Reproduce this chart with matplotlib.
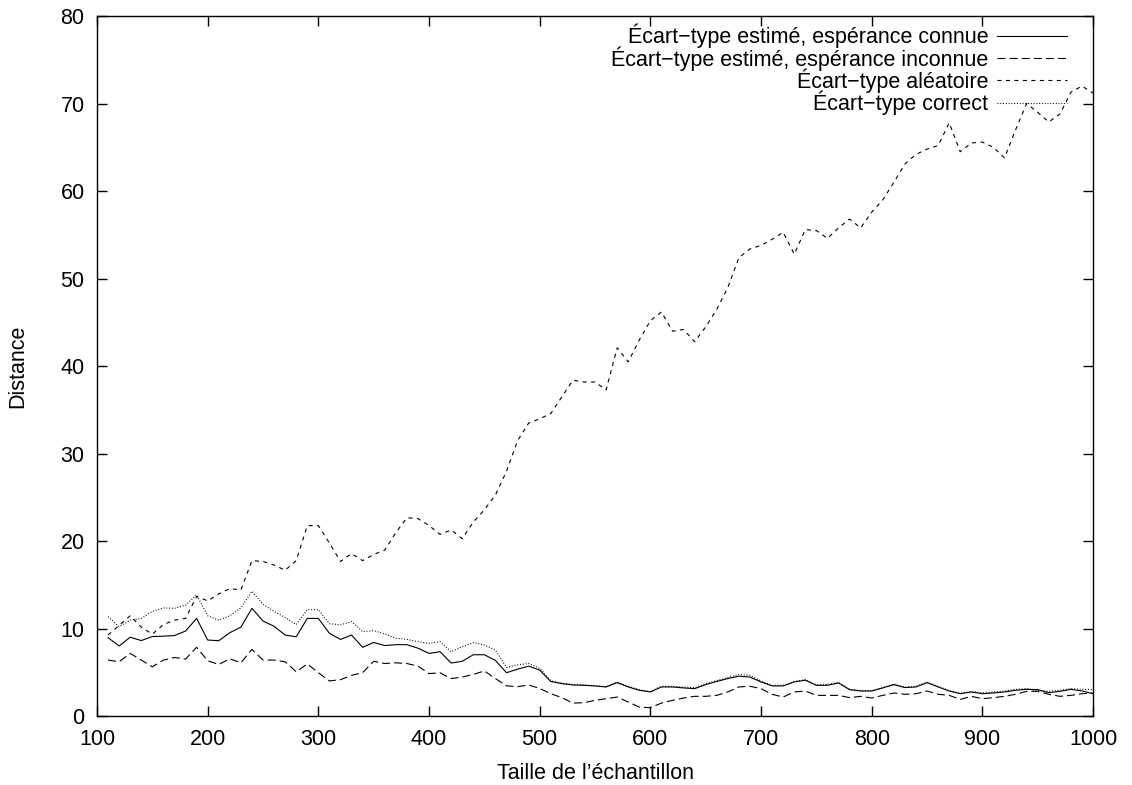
import numpy as np
import matplotlib
matplotlib.use('Agg')
import matplotlib.pyplot as plt

plt.rcParams['font.family'] = ['Liberation Sans', 'DejaVu Sans']
plt.rcParams['lines.scale_dashes'] = False

# Sample sizes 110..1000 by 10
taille = np.arange(110, 1001, 10)

connue = [
    9.0, 8.05, 9.05, 8.67, 9.13, 9.17, 9.24, 9.76, 11.2, 8.73,
    8.65, 9.57, 10.2, 12.35, 10.9, 10.3, 9.3, 9.1, 11.2, 11.2,
    9.5, 8.8, 9.3, 7.9, 8.45, 8.1, 8.2, 8.2, 7.8, 7.2,
    7.4, 6.1, 6.3, 7.05, 7.05, 6.4, 5.0, 5.4, 5.75, 5.3,
    4.0, 3.75, 3.6, 3.56, 3.49, 3.37, 3.87, 3.37, 2.99, 2.8,
    3.37, 3.37, 3.26, 3.18, 3.64, 4.0, 4.33, 4.6, 4.5, 3.95,
    3.49, 3.49, 3.95, 4.14, 3.56, 3.56, 3.83, 3.06, 2.91, 2.91,
    3.26, 3.64, 3.3, 3.37, 3.87, 3.37, 2.91, 2.6, 2.8, 2.6,
    2.68, 2.8, 2.99, 3.1, 3.07, 2.72, 2.87, 3.1, 2.91, 2.6,
]
inconnue = [
    6.44, 6.25, 7.2, 6.44, 5.67, 6.44, 6.74, 6.55, 7.9, 6.36,
    5.94, 6.59, 6.13, 7.66, 6.44, 6.44, 6.25, 5.1, 6.0, 5.0,
    4.06, 4.2, 4.7, 5.0, 6.3, 6.05, 6.13, 6.05, 5.75, 4.9,
    4.98, 4.33, 4.5, 4.8, 5.2, 4.33, 3.5, 3.4, 3.6, 3.2,
    2.6, 2.15, 1.53, 1.57, 1.84, 2.03, 2.22, 1.65, 1.07, 1.0,
    1.53, 1.84, 2.11, 2.3, 2.3, 2.41, 2.8, 3.37, 3.45, 3.18,
    2.53, 2.22, 2.8, 2.91, 2.41, 2.41, 2.41, 2.15, 2.3, 2.11,
    2.41, 2.68, 2.53, 2.6, 2.91, 2.53, 2.41, 1.95, 2.3, 2.03,
    2.15, 2.3, 2.53, 2.87, 2.87, 2.53, 2.3, 2.41, 2.6, 2.68,
]
aleatoire = [
    9.3, 10.4, 11.5, 10.2, 9.4, 10.5, 11.0, 11.2, 13.7, 13.2,
    14.0, 14.6, 14.45, 17.8, 17.7, 17.3, 16.7, 17.8, 21.8, 21.8,
    19.8, 17.7, 18.6, 17.8, 18.5, 19.0, 21.0, 22.7, 22.6, 21.8,
    20.8, 21.3, 20.3, 22.2, 23.6, 25.3, 28.0, 31.5, 33.5, 34.0,
    34.6, 36.5, 38.4, 38.2, 38.2, 37.3, 42.1, 40.5, 43.0, 45.2,
    46.2, 44.0, 44.2, 42.8, 44.5, 46.5, 49.0, 52.4, 53.4, 53.8,
    54.5, 55.3, 52.8, 55.6, 55.5, 54.6, 55.8, 56.8, 55.8, 57.6,
    59.0, 61.0, 63.1, 64.2, 64.8, 65.2, 67.8, 64.5, 65.5, 65.6,
    65.0, 63.8, 67.0, 70.0, 69.0, 67.9, 68.8, 71.3, 72.0, 71.2,
]
correct = [
    11.4, 10.25, 11.0, 11.2, 12.0, 12.4, 12.35, 12.7, 13.9, 11.5,
    11.0, 11.5, 12.4, 14.3, 12.8, 12.0, 11.3, 10.5, 12.2, 12.2,
    10.6, 10.46, 10.84, 9.69, 9.8, 9.43, 8.93, 8.81, 8.54, 8.35,
    8.54, 7.39, 7.97, 8.43, 8.16, 7.59, 5.6, 5.9, 6.05, 5.5,
    4.1, 3.8, 3.65, 3.6, 3.5, 3.4, 3.9, 3.45, 3.05, 2.85,
    3.45, 3.45, 3.35, 3.3, 3.75, 4.1, 4.45, 4.8, 4.7, 4.05,
    3.55, 3.55, 4.0, 4.2, 3.6, 3.65, 3.9, 3.1, 2.95, 2.95,
    3.3, 3.7, 3.35, 3.45, 3.9, 3.45, 2.95, 2.65, 2.85, 2.7,
    2.8, 2.9, 3.1, 3.18, 2.95, 2.87, 3.0, 3.18, 3.1, 3.07,
]

labels = [
    'Écart\u2212type estimé, espérance connue',
    'Écart\u2212type estimé, espérance inconnue',
    'Écart\u2212type aléatoire',
    'Écart\u2212type correct',
]

fs = 15.5

fig = plt.figure(figsize=(11.32, 7.85), dpi=100)
ax = fig.add_axes([0.0857, 0.0873, 0.8799, 0.8923])

lw = 0.8
ax.plot(taille, connue, color='black', lw=lw, linestyle='-', label=labels[0])
ax.plot(taille, inconnue, color='black', lw=lw, linestyle=(0, (5.8, 2.9)), label=labels[1])
ax.plot(taille, aleatoire, color='black', lw=lw, linestyle=(0, (2.9, 3.2)), label=labels[2])
ax.plot(taille, correct, color='black', lw=lw, linestyle=(0, (0.7, 1.3)), label=labels[3])

ax.set_xlim(100, 1000)
ax.set_ylim(0, 80)
ax.set_xticks(np.arange(100, 1001, 100))
ax.set_yticks(np.arange(0, 81, 10))
ax.tick_params(direction='in', length=7, width=1, top=True, right=True,
               labelsize=fs, pad=9)
for s in ax.spines.values():
    s.set_linewidth(1.0)

ax.set_xlabel('Taille de l\u2019échantillon', fontsize=fs)
ax.set_ylabel('Distance', fontsize=fs)
ax.xaxis.set_label_coords(0.5, -0.066)
ax.yaxis.set_label_coords(-0.069, 0.5)

ax.legend(loc='upper right', bbox_to_anchor=(0.974, 0.989), frameon=False,
          markerfirst=False, fontsize=fs, handlelength=3.25, handletextpad=0.42,
          labelspacing=-0.1, borderpad=0, borderaxespad=0)

fig.savefig('out.png', dpi=100)
